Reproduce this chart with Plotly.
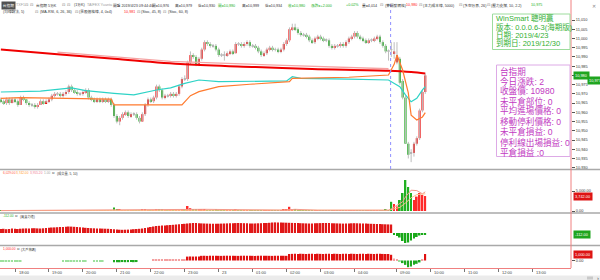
import plotly.graph_objects as go

# ---------------- data (5-minute bars, index 0 = 17:35 night session) ----------------
bar_open = [
    10967, 10966, 10965, 10967, 10965, 10967, 10966, 10964, 10968, 10967,
    10965, 10964, 10964, 10963, 10964, 10966, 10965, 10966, 10967, 10969,
    10970, 10970, 10969, 10970, 10971, 10974, 10972, 10971, 10970, 10970,
    10971, 10972, 10968, 10967, 10966, 10967, 10966, 10967, 10966, 10967,
    10964, 10958, 10955, 10957, 10959, 10960, 10958, 10959, 10959, 10957,
    10955, 10959, 10964, 10967, 10966, 10968, 10974, 10972, 10968, 10969,
    10969, 10970, 10969, 10970, 10974, 10978, 10978, 10987, 10991, 10990,
    10986, 10989, 10994, 10998, 10997, 10996, 10996, 10994, 10991, 10991,
    10991, 10992, 10993, 10992, 10997, 10997, 10996, 10997, 10998, 10996,
    10996, 10995, 10993, 10991, 10992, 10994, 10995, 10994, 10994, 10993,
    10994, 10997, 10999, 11005, 11006, 11005, 11003, 11002, 11002, 11001,
    10999, 10998, 11000, 11001, 11000, 10999, 10999, 10996, 10995, 10996,
    10996, 10997, 10996, 10998, 11000, 11001, 11003, 11001, 11000, 10999,
    10998, 10999, 10999, 11000, 11001, 10998, 10996, 10993, 10994, 10992,
    10987, 10989, 10977, 10968, 10943, 10938, 10938, 10943, 10946, 10961, 10971]
bar_high = [
    10968, 10967, 10968, 10968, 10968, 10968, 10967, 10969, 10969, 10967,
    10966, 10965, 10965, 10965, 10967, 10967, 10967, 10968, 10970, 10971,
    10971, 10971, 10971, 10972, 10975, 10975, 10973, 10972, 10971, 10972,
    10973, 10973, 10969, 10968, 10968, 10968, 10968, 10968, 10968, 10968,
    10965, 10959, 10958, 10960, 10961, 10961, 10960, 10960, 10960, 10958,
    10960, 10965, 10968, 10968, 10969, 10975, 10975, 10973, 10970, 10970,
    10971, 10971, 10971, 10975, 10979, 10980, 10988, 10993, 10992, 10991,
    10990, 10995, 10999, 10999, 10998, 10997, 10997, 10995, 10992, 10993,
    10993, 10994, 10994, 10998, 10998, 10998, 10998, 10999, 10999, 10997,
    10997, 10996, 10994, 10993, 10995, 10996, 10996, 10995, 10995, 10995,
    10998, 11000, 11006, 11008, 11008, 11006, 11004, 11003, 11003, 11002,
    11000, 11001, 11002, 11002, 11001, 11000, 11000, 10997, 10997, 10997,
    10998, 10998, 10999, 11001, 11002, 11004, 11004, 11002, 11001, 11000,
    11000, 11000, 11001, 11002, 11002, 10999, 10997, 10994, 10998, 10998,
    10998, 10990, 10978, 10969, 10944, 10940, 10944, 10947, 10962, 10972, 10981]
bar_low = [
    10965, 10964, 10964, 10964, 10965, 10965, 10963, 10964, 10966, 10964,
    10963, 10963, 10962, 10962, 10964, 10964, 10965, 10965, 10966, 10968,
    10969, 10968, 10968, 10969, 10970, 10971, 10970, 10969, 10969, 10969,
    10970, 10967, 10966, 10965, 10965, 10965, 10965, 10965, 10965, 10963,
    10957, 10954, 10953, 10956, 10958, 10957, 10957, 10958, 10956, 10954,
    10955, 10958, 10963, 10965, 10965, 10967, 10971, 10967, 10967, 10968,
    10968, 10968, 10968, 10969, 10973, 10977, 10977, 10986, 10989, 10985,
    10985, 10988, 10993, 10996, 10995, 10995, 10993, 10990, 10990, 10988,
    10990, 10991, 10991, 10992, 10996, 10995, 10995, 10996, 10995, 10995,
    10994, 10992, 10990, 10990, 10991, 10993, 10993, 10993, 10992, 10992,
    10993, 10996, 10998, 11004, 11004, 11002, 11001, 11001, 11000, 10998,
    10997, 10997, 10999, 10999, 10998, 10998, 10995, 10994, 10994, 10995,
    10995, 10995, 10995, 10997, 10999, 11000, 11000, 10999, 10998, 10997,
    10997, 10998, 10998, 10999, 10997, 10995, 10992, 10988, 10990, 10989,
    10986, 10975, 10967, 10943, 10935, 10933, 10936, 10942, 10945, 10960, 10970]
bar_close = [
    10966, 10965, 10967, 10965, 10967, 10966, 10964, 10968, 10967, 10965,
    10964, 10964, 10963, 10964, 10966, 10965, 10966, 10967, 10969, 10970,
    10970, 10969, 10970, 10971, 10974, 10972, 10971, 10970, 10970, 10971,
    10972, 10968, 10967, 10966, 10967, 10966, 10967, 10966, 10967, 10964,
    10958, 10955, 10957, 10959, 10960, 10958, 10959, 10959, 10957, 10955,
    10959, 10964, 10967, 10966, 10968, 10974, 10972, 10968, 10969, 10969,
    10970, 10969, 10970, 10974, 10978, 10978, 10987, 10991, 10990, 10986,
    10989, 10994, 10998, 10997, 10996, 10996, 10994, 10991, 10991, 10991,
    10992, 10993, 10992, 10997, 10997, 10996, 10997, 10998, 10996, 10996,
    10995, 10993, 10991, 10992, 10994, 10995, 10994, 10994, 10993, 10994,
    10997, 10999, 11005, 11006, 11005, 11003, 11002, 11002, 11001, 10999,
    10998, 11000, 11001, 11000, 10999, 10999, 10996, 10995, 10996, 10996,
    10997, 10996, 10998, 11000, 11001, 11003, 11001, 11000, 10999, 10998,
    10999, 10999, 11000, 11001, 10998, 10996, 10993, 10993, 10994, 10993,
    10991, 10976, 10968, 10943, 10937, 10938, 10943, 10946, 10961, 10971, 10980]

volume = [
    120, 90, 150, 80, 110, 60, 140, 180, 90, 70,
    80, 50, 100, 60, 90, 70, 60, 80, 160, 120,
    60, 70, 80, 90, 200, 150, 80, 70, 50, 60,
    70, 180, 90, 60, 50, 70, 40, 60, 50, 150,
    850, 400, 300, 200, 150, 180, 120, 90, 200, 250,
    300, 350, 250, 150, 120, 400, 300, 350, 150, 100,
    120, 100, 90, 250, 400, 300, 1250, 700, 300, 350,
    300, 450, 400, 250, 200, 150, 300, 250, 150, 120,
    100, 120, 90, 300, 150, 120, 100, 150, 200, 120,
    100, 200, 250, 150, 200, 180, 100, 90, 80, 120,
    300, 400, 1050, 450, 300, 250, 150, 100, 120, 200,
    180, 150, 120, 100, 90, 80, 200, 150, 100, 90,
    100, 80, 150, 200, 180, 250, 200, 150, 100, 120,
    90, 100, 150, 120, 200, 250, 300, 200, 2300, 1750,
    1100, 2750, 4500, 7750, 6000, 4500, 2750, 3600, 4500, 4000, 3742]

power_vals = [  # (買賣力道)
    400, 420, 380, 400, 450, 420, 400, 430, 450, 460,
    450, 470, 480, 460, 450, 470, 500, 520, 550, 560,
    580, 600, 600, 620, 650, 640, 620, 600, 580, 560,
    520, 500, 480, 470, 460, 450, 440, 430, 420, 400,
    380, 350, 330, 320, 330, 340, 360, 380, 400, 420,
    450, 500, 550, 600, 650, 700, 720, 740, 760, 780,
    800, 820, 850, 880, 900, 920, 950, 980, 1000, 1000,
    980, 960, 950, 940, 930, 920, 920, 930, 940, 950,
    960, 970, 980, 990, 1000, 990, 980, 970, 960, 950,
    960, 970, 980, 990, 1000, 1020, 1050, 1060, 1060, 1050,
    1040, 1030, 1020, 1010, 1000, 990, 980, 970, 960, 950,
    960, 970, 980, 990, 1000, 1000, 990, 980, 970, 960,
    950, 940, 950, 960, 970, 980, 970, 960, 950, 940,
    930, 920, 910, 900, 890, 880, 870, 860, 850, -150,
    -300, -450, -800, -1000, -950, -750, -550, -400, -250, -180, -112]

big_vals = [  # (大戶籌碼)
    -150, -140, -160, -150, -130, -150, -160, -140, 0, 0,
    0, 0, 0, 0, 0, 0, 0, 0, 0, 0,
    0, 0, -120, -140, -150, -130, -150, -140, -120, -150,
    -130, 0, 0, -150, -140, -150, -130, 0, 0, 0,
    -260, -250, -270, -240, -260, -250, -230, -260, -240, 0,
    0, 0, 0, 0, 120, 110, 130, 120, 100, 120,
    130, 110, 120, 130, 120, 140, 600, 620, 610, 630,
    620, 720, 730, 710, 740, 720, 730, 720, 710, 730,
    740, 720, 730, 720, 710, 730, 740, 720, 730, 720,
    710, 730, 740, 720, 730, 720, 710, 730, 740, 720,
    730, 720, 1000, 1020, 1030, 1010, 1040, 1020, 1000, 1030,
    1020, 1010, 1040, 1020, 1000, 1030, 1020, 1010, 1040, 1020,
    1000, 1030, 1020, 1010, 1040, 1020, 1000, 1030, 1020, 1010,
    1040, 1020, 1000, 1030, 1020, 1010, 1000, 1000, 880, 300,
    150, -150, -400, -670, -1030, -920, -670, -510, -300, 150, 1000]

# moving-average style lines (read at anchor bars)
red_ma_x = [0, 20, 40, 65, 90, 110, 137, 145, 150]
red_ma_y = [10994, 10991.5, 10989, 10986, 10984.5, 10983.5, 10982.5, 10981.8, 10981]
pink_ma_x = [20, 60, 100, 137]
pink_ma_y = [10992.6, 10987.6, 10985.4, 10983.6]
cyan_x = [0, 14, 25, 30, 40, 47, 55, 60, 65, 70, 77, 92, 101, 103, 106, 123, 137, 141, 143, 145, 147, 149, 150]
cyan_y = [10971, 10971.5, 10973.2, 10971.7, 10970.3, 10969.4, 10972.1, 10973.2, 10975.7, 10977.5,
          10976.6, 10977, 10977, 10979.3, 10978.4, 10978, 10977.5, 10973.9, 10969.4, 10965.7,
          10967.6, 10972.1, 10973.9]
orange_x = [0, 7, 39, 40, 64, 65, 67, 70, 77, 88, 102, 103, 123, 137, 139, 140, 142, 144, 145, 147, 149, 150]
orange_y = [10967.6, 10968, 10967.1, 10964, 10964, 10965.7, 10969, 10971.2, 10973.9, 10975.2,
            10976.6, 10978.4, 10979, 10980.2, 10986, 10991, 10982.9, 10970.5, 10958.5, 10955.8,
            10957.5, 10959.8]
vol_ma5_x = [0, 40, 45, 66, 72, 100, 104, 112, 137, 138, 140, 142, 143, 145, 147, 149, 150]
vol_ma5_y = [110, 250, 320, 450, 420, 220, 420, 200, 200, 550, 1500, 2300, 3500, 5200, 5100, 4300, 4800]
vol_ma10_x = [0, 40, 66, 100, 137, 138, 141, 143, 145, 147, 150]
vol_ma10_y = [100, 180, 300, 200, 180, 350, 900, 2000, 3300, 4100, 4300]

second_label_value = 10977
time_tick_idx = [5, 17, 29, 41, 53, 65, 77, 89, 101, 113, 125, 140, 152, 164, 176, 188]
time_tick_lbl = ["18:00", "19:00", "20:00", "21:00", "22:00", "23:00", "23", "01:00", "02:00",
                 "03:00", "04:00", "09:00", "10:00", "11:00", "12:00", "13:00"]
price_ticks = [10930, 10935, 10940, 10945, 10950, 10955, 10960, 10965, 10970, 10975,
               10980, 10985, 10990, 10995, 11000, 11005, 11010]
price_tick_lbl = ["10,930", "10,935", "10,940", "10,945", "10,950", "10,955", "10,960", "10,965",
                  "10,970", "10,975", "10,980", "10,985", "10,990", "10,995", "11,000", "11,005", "11,010"]
session_break = 137.75

ws_lines = ["WinSmart 聰明贏", "版本: 0.0.0.6-3(海期版)", "日期: 2019/4/23", "到期日: 2019/12/30"]
tx_lines = ["台指期", "今日漲跌: 2", "收盤價: 10980", "未平倉部位: 0", "平均進場價格: 0",
            "移動停利價格: 0", "未平倉損益: 0", "停利線出場損益: 0", "平倉損益 :0"]

# ---------------- geometry helpers ----------------
W, H = 600, 280
MR = 29
PW = W - MR
XR = [-0.3, 201.5]


def fx(px):
    return px / PW


def fy(py):
    return 1 - py / H


n = len(bar_close)
for arr in (bar_open, bar_high, bar_low, volume, power_vals, big_vals):
    assert len(arr) == n, len(arr)
bar_index = list(range(n))

UP, DOWN, FLAT = "#f00000", "#00a400", "#a8a8a8"
body_base, body_len, body_col = [], [], []
for o, c in zip(bar_open, bar_close):
    body_col.append(UP if c > o else (DOWN if c < o else FLAT))
    if c == o:
        body_base.append(o - 0.25)
        body_len.append(0.5)
    else:
        body_base.append(min(o, c))
        body_len.append(abs(c - o))

wick_x, wick_y = [], []
for i, h, l in zip(bar_index, bar_high, bar_low):
    wick_x += [i, i, None]
    wick_y += [l, h, None]

vol_col = ["#ff2a2a" if c > o else "#22b022" for o, c in zip(bar_open, bar_close)]
pow_col = ["#e01818" if v >= 0 else "#18a818" for v in power_vals]
big_col = []
for v in big_vals:
    if v >= 500:
        big_col.append("#e01010")
    elif v > 0:
        big_col.append("#f4a0a0")
    elif v > -200:
        big_col.append("#9de09d")
    else:
        big_col.append("#1fa81f")

fig = go.Figure()
fig.add_trace(go.Scatter(x=wick_x, y=wick_y, mode="lines", line=dict(color="#bdbdbd", width=1),
                         xaxis="x", yaxis="y", hoverinfo="skip"))
fig.add_trace(go.Bar(x=bar_index, y=body_len, base=body_base, width=0.72,
                     marker=dict(color=body_col, line=dict(width=0)), xaxis="x", yaxis="y"))
fig.add_trace(go.Scatter(x=pink_ma_x, y=pink_ma_y, mode="lines", line=dict(color="#f5a3a3", width=1.3),
                         xaxis="x", yaxis="y"))
fig.add_trace(go.Scatter(x=red_ma_x, y=red_ma_y, mode="lines", line=dict(color="#f00000", width=2, shape="spline"),
                         xaxis="x", yaxis="y"))
fig.add_trace(go.Scatter(x=cyan_x, y=cyan_y, mode="lines", line=dict(color="#2ed3c6", width=1.2),
                         xaxis="x", yaxis="y"))
fig.add_trace(go.Scatter(x=orange_x, y=orange_y, mode="lines", line=dict(color="#ff7a2e", width=1.2),
                         xaxis="x", yaxis="y"))

fig.add_trace(go.Bar(x=bar_index, y=volume, width=0.6, marker=dict(color=vol_col, line=dict(width=0)),
                     xaxis="x2", yaxis="y2"))
fig.add_trace(go.Scatter(x=vol_ma10_x, y=vol_ma10_y, mode="lines", line=dict(color="#ffc38a", width=1),
                         xaxis="x2", yaxis="y2"))
fig.add_trace(go.Scatter(x=vol_ma5_x, y=vol_ma5_y, mode="lines", line=dict(color="#f49a8a", width=1),
                         xaxis="x2", yaxis="y2"))

fig.add_trace(go.Bar(x=bar_index, y=power_vals, width=0.6, marker=dict(color=pow_col, line=dict(width=0)),
                     xaxis="x3", yaxis="y3"))
fig.add_trace(go.Bar(x=bar_index, y=big_vals, width=0.6, marker=dict(color=big_col, line=dict(width=0)),
                     xaxis="x4", yaxis="y4"))

ax_off = dict(showgrid=False, zeroline=False, showline=False)
yfont = dict(size=3.9, color="#333333", family="Liberation Sans")
fig.update_layout(
    width=W, height=H, margin=dict(l=0, r=MR, t=0, b=0), template="none",
    paper_bgcolor="white", plot_bgcolor="white", showlegend=False, barmode="overlay",
    font=dict(family="Liberation Sans, Noto Sans CJK TC", size=4, color="#333333"),
    xaxis=dict(domain=[0, 1], range=XR, anchor="y", showticklabels=False, ticks="", **ax_off),
    xaxis2=dict(domain=[0, 1], range=XR, anchor="y2", matches="x", showticklabels=False, ticks="", **ax_off),
    xaxis3=dict(domain=[0, 1], range=XR, anchor="y3", matches="x", showticklabels=False, ticks="", **ax_off),
    xaxis4=dict(domain=[0, 1], range=XR, anchor="y4", matches="x", showticklabels=False,
                showgrid=False, zeroline=False, showline=True, linecolor="#f08080", linewidth=1,
                ticks="outside", ticklen=3, tickcolor="#777777", tickvals=time_tick_idx),
    yaxis=dict(domain=[fy(169), 1], range=[10929.3, 11020.83], side="right", anchor="x",
               tickvals=price_ticks, ticktext=price_tick_lbl, ticks="outside", ticklen=3,
               tickcolor="#555555", tickfont=yfont, **ax_off),
    yaxis2=dict(domain=[fy(213), fy(170)], range=[-500, 10250], side="right", anchor="x2",
                tickvals=[0, 5000], ticktext=["0.00", "5,000.00"], ticks="outside", ticklen=3,
                tickcolor="#555555", tickfont=yfont, **ax_off),
    yaxis3=dict(domain=[fy(245), fy(214)], range=[-1200, 1900], side="right", anchor="x3",
                showticklabels=False, ticks="", **ax_off),
    yaxis4=dict(domain=[fy(268), fy(246)], range=[-1153, 2230], side="right", anchor="x4",
                tickvals=[0], ticktext=["0.00"], ticks="outside", ticklen=3,
                tickcolor="#555555", tickfont=yfont, **ax_off),
)

shapes = []
for py in (169.5, 213, 245.5):
    shapes.append(dict(type="line", xref="paper", yref="paper", x0=0, x1=fx(600), y0=fy(py), y1=fy(py),
                       line=dict(color="#a9a9a9", width=1.5)))
shapes.append(dict(type="line", xref="paper", yref="paper", x0=1, x1=1, y0=fy(268), y1=1,
                   line=dict(color="#f08080", width=1)))
shapes.append(dict(type="line", xref="x", yref="paper", x0=session_break, x1=session_break,
                   y0=fy(169), y1=fy(2), line=dict(color="#8f8fff", width=1, dash="dot")))
# boxes
shapes.append(dict(type="rect", xref="paper", yref="paper", x0=fx(492.5), x1=fx(570), y0=fy(49.5), y1=fy(14),
                   line=dict(color="#9ddc9d", width=1)))
shapes.append(dict(type="rect", xref="paper", yref="paper", x0=fx(496.5), x1=fx(570), y0=fy(156.5), y1=fy(65),
                   line=dict(color="#ddaae6", width=1)))
# scrollbar
shapes.append(dict(type="rect", xref="paper", yref="paper", x0=0, x1=fx(600), y0=fy(280), y1=fy(275.5),
                   line=dict(width=0), fillcolor="#ebebeb"))
shapes.append(dict(type="rect", xref="paper", yref="paper", x0=fx(587), x1=fx(593), y0=fy(279.5), y1=fy(276.5),
                   line=dict(width=0), fillcolor="#c9c9c9"))
fig.update_layout(shapes=shapes)

ann = []
SANS = "Liberation Sans, Noto Sans CJK TC"


def txt(px, py, s, color="#333333", size=3.7, bg=None, family=SANS):
    d = dict(x=fx(px), y=fy(py), xref="paper", yref="paper", text=s, showarrow=False,
             xanchor="left", yanchor="middle", font=dict(size=size, color=color, family=family))
    if bg:
        d.update(bgcolor=bg, borderpad=0.8)
    ann.append(d)


G, D, L, GR, R = "#20b020", "#333333", "#a0a0a0", "#777777", "#ff2020"
header1 = [(0.5, "台指期", "#ffffff", "#505050"), (13.5, "TXF1", L, None), (23, "⊡", GR, None),
           (28.5, "⊡", GR, None), (34, "台指期 5分K", D, None), (60, "⊡", GR, None), (65, "⊡", GR, None),
           (72, "(1分K)", D, None), (85, "TAIFEX Yuanta", L, None), (111, "開盤 2019/4/23 09:44:40", D, None),
           (150, "開=10,976", D, None), (173, "高=10,979", D, None), (196, "低=10,930", D, None),
           (216, "開=10,990", G, None), (240, "高=10,999", D, None), (263, "低=10,934", D, None),
           (286, "收=10,980", G, None), (309, "漲跌=+2.000", G, None), (344, "+0.02%", G, None),
           (360, "量=4,014", D, None), (378, "⊡", GR, None), (383, "(雙開發網格)", D, None),
           (404, "10,980", R, None), (417, "⊡", GR, None), (421, "(主力成本線, 5000)", D, None),
           (457, "⊡", GR, None), (461, "(多空分界, 26)", D, None), (485, "⊡", GR, None),
           (489, "(壓力支撐, 10, 2.2)", D, None), (529, "10,975", G, None)]
for px, s, col, bg in header1:
    txt(px, 5, s, col, 3.7, bg)
header2 = [(0.5, "(均線戰法, 5)", D), (33, "⊡", GR), (38, "(MA-RSI, 6, 26, 36)", D), (73, "⊡", GR),
           (77, "(雲股價格線, 4, 0x4)", D), (122, "10,981", R), (134.5, "⊡", GR),
           (139, "(Stoc, 45, 8)", D), (161, "⊡", GR), (166, "(Stoc, 60, 8)", D)]
for px, s, col in header2:
    txt(px, 12, s, col, 3.7)
txt(590, 6, "✕", "#888888", 4.5)

# sub-panel headers
txt(0.5, 173, "6,029.00", "#ff5a3c", 3.2)
txt(14, 173, "3,742.00", "#ff9a2e", 3.2)
txt(28, 173, "3,955.20", "#f07890", 3.2)
txt(42, 173, "1.00", L, 3.2)
txt(50, 173, "⊡", D, 3.2)
txt(55, 173, "(成交量, 5, 10)", D, 3.2)
txt(0.5, 216, f"{power_vals[-1]:,.2f}", G, 3.2)
txt(13, 216, "⊡", D, 3.2)
txt(18, 216, "(買賣力道)", D, 3.2)
txt(0.5, 249, f"{big_vals[-1]:,.2f}", R, 3.2)
txt(14.5, 249, "⊡", D, 3.2)
txt(19.5, 249, "(大戶籌碼)", D, 3.2)

# boxes text
for s, py in zip(ws_lines, [17.5, 26.5, 35, 43.5]):
    txt(494, py, s, "#33b033", 7.5, None, SANS)
for s, py in zip(tx_lines, [71, 81, 91, 101, 111, 121, 131.5, 142, 152]):
    txt(498, py, s, "#c23ac2", 8.6, None, SANS)

# time labels
for ti, lbl in zip(time_tick_idx, time_tick_lbl):
    ann.append(dict(x=ti, xref="x4", y=fy(272.5), yref="paper", text=lbl, showarrow=False,
                    xanchor="left", yanchor="middle", xshift=1.5,
                    font=dict(size=4, color="#444444", family="Liberation Sans")))


def tag(yval, yref, s, bg, px=573):
    ann.append(dict(x=fx(px), xref="paper", y=yval, yref=yref, text=s, showarrow=False,
                    xanchor="left", yanchor="middle", bgcolor=bg, borderpad=1,
                    font=dict(size=3.9, color="white", family="Liberation Sans")))


tag(bar_close[-1], "y", f"{bar_close[-1]:,}", "#1fa51f")
tag(second_label_value, "y", f"{second_label_value:,}", "#1fa51f", 587)
tag(volume[-1], "y2", f"{volume[-1]:,.2f}", "#dd1414")
tag(power_vals[-1], "y3", f"{power_vals[-1]:,.2f}", "#1fa51f")
tag(big_vals[-1], "y4", f"{big_vals[-1]:,.2f}", "#dd1414")
txt(595, 278, "›", "#555555", 6)

fig.update_layout(annotations=ann)
fig.write_html("out.html")
